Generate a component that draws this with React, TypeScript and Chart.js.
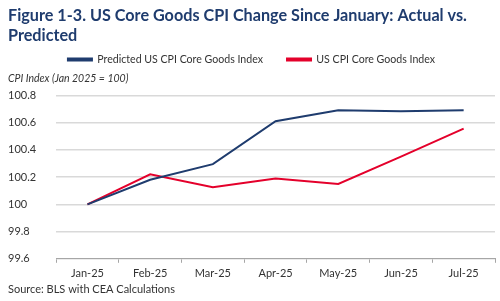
import React, { useEffect, useRef } from "react";
import { Chart, registerables } from "chart.js";

Chart.register(...registerables);

const categories = ["Jan-25", "Feb-25", "Mar-25", "Apr-25", "May-25", "Jun-25", "Jul-25"];
const predicted = [100, 100.18, 100.295, 100.61, 100.69, 100.683, 100.69];
const actual = [100, 100.22, 100.125, 100.19, 100.15, 100.35, 100.556];
const yTicks = [99.6, 99.8, 100, 100.2, 100.4, 100.6, 100.8];
const titleLines = ["Figure 1-3. US Core Goods CPI Change Since January: Actual vs.", "Predicted"];
const axisLabel = "CPI Index (Jan 2025 = 100)";
const sourceText = "Source: BLS with CEA Calculations";

const NAVY = "#1F3C6E";
const RED = "#E4002B";
const FONT = "Lato";

const sourcePlugin = {
  id: "sourceNote",
  afterDraw(chart: any) {
    const ctx = chart.ctx;
    ctx.save();
    ctx.font = `11px ${FONT}`;
    ctx.fillStyle = "#333333";
    ctx.textAlign = "left";
    ctx.textBaseline = "middle";
    ctx.fillText(sourceText, 8, chart.height - 12);
    ctx.restore();
  },
};

export default function App() {
  const ref = useRef<HTMLCanvasElement>(null);
  useEffect(() => {
    if (!ref.current) return;
    const chart = new Chart(ref.current, {
      type: "line",
      data: {
        labels: categories,
        datasets: [
          {
            label: "Predicted US CPI Core Goods Index",
            data: predicted,
            borderColor: NAVY,
            backgroundColor: NAVY,
            borderWidth: 2,
            pointRadius: 0,
            tension: 0,
          },
          {
            label: "US CPI Core Goods Index",
            data: actual,
            borderColor: RED,
            backgroundColor: RED,
            borderWidth: 2,
            pointRadius: 0,
            tension: 0,
          },
        ],
      },
      plugins: [sourcePlugin],
      options: {
        animation: false,
        responsive: true,
        maintainAspectRatio: false,
        layout: { padding: { left: 8, right: 5, top: 6, bottom: 17 } },
        plugins: {
          title: {
            display: true,
            text: titleLines,
            align: "start",
            color: NAVY,
            font: { family: FONT, size: 16.2, weight: "bold", lineHeight: 1.24 },
            padding: { top: 0, bottom: -16 },
          },
          subtitle: {
            display: true,
            text: axisLabel,
            align: "start",
            color: "#333333",
            font: { family: FONT, size: 10.5, style: "italic" },
            padding: { top: -2, bottom: 10 },
            weight: 500,
          } as any,
          legend: {
            display: true,
            position: "top",
            align: "center",
            labels: {
              boxWidth: 24,
              boxHeight: 2,
              padding: 24,
              color: "#333333",
              font: { family: FONT, size: 10.6 },
            },
          },
          tooltip: { enabled: false },
        },
        scales: {
          x: {
            offset: true,
            grid: {
              display: true,
              drawOnChartArea: false,
              drawTicks: true,
              tickLength: 4,
              offset: true,
              color: "#A6A6A6",
            },
            border: { display: true, color: "#A6A6A6" },
            ticks: {
              color: "#333333",
              font: { family: FONT, size: 11 },
              padding: 4,
              maxRotation: 0,
            },
          },
          y: {
            min: 99.6,
            max: 100.8,
            afterBuildTicks: (axis: any) => {
              axis.ticks = yTicks.map((v) => ({ value: v }));
            },
            grid: { color: "#D9D9D9", lineWidth: 1.5, drawTicks: false },
            border: { display: false },
            ticks: {
              color: "#333333",
              font: { family: FONT, size: 11 },
              crossAlign: "far",
              padding: 10,
              callback: (v: any) => String(Math.round(Number(v) * 10) / 10),
            },
          },
        },
      },
    });
    return () => chart.destroy();
  }, []);
  return (
    <div style={{ position: "fixed", left: 0, top: 0, width: 500, height: 301, background: "#fff" }}>
      <canvas ref={ref} />
    </div>
  );
}
